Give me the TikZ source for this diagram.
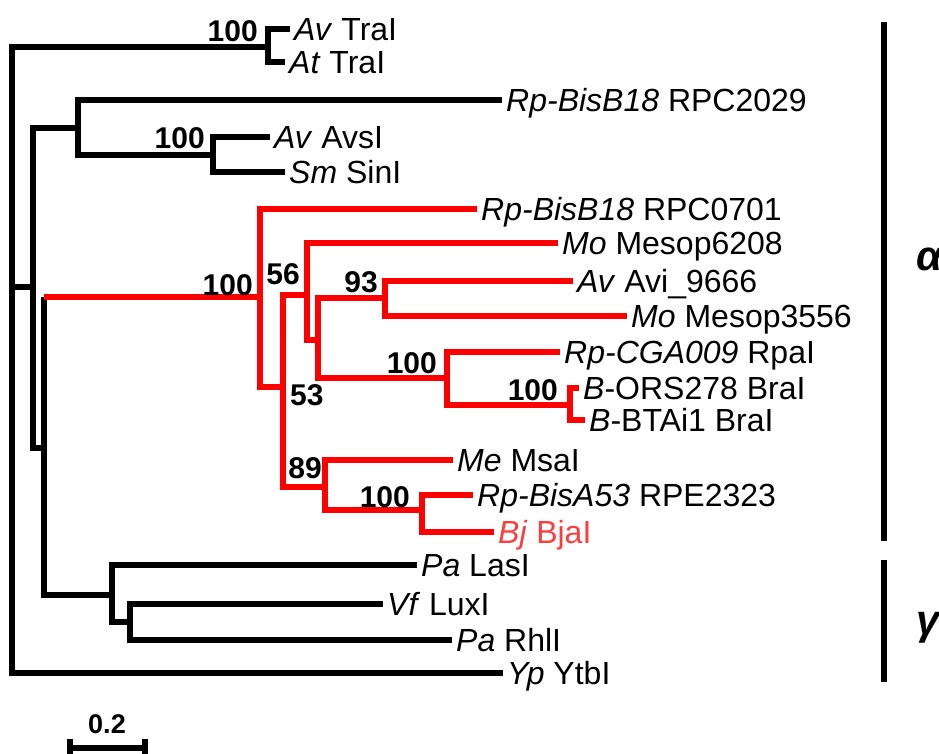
\documentclass[tikz,border=0pt]{standalone}
\usepackage{fontspec}
\setmainfont{Liberation Sans}
\definecolor{bjred}{RGB}{255,60,60}
\begin{document}
\begin{tikzpicture}[x=1pt,y=-1pt,
  br/.style={line width=6pt, line join=miter, line cap=butt},
  leaf/.style={anchor=west, inner xsep=4pt, inner ysep=0pt, text height=23pt, text depth=0pt, font=\fontsize{32}{38}\selectfont},
  boot/.style={anchor=base east, inner sep=0pt, font=\fontsize{30}{36}\selectfont\bfseries},
  clade/.style={anchor=base west, inner sep=0pt, font=\fontsize{42}{48}\selectfont\bfseries\itshape}]
\useasboundingbox (0,0) rectangle (939,753);
% leaves
\node[leaf] (avtral)  at (290,29)  {\textit{Av} TraI};
\node[leaf] (attral)  at (285,62)  {\textit{At} TraI};
\node[leaf] (rpc2029) at (502,100) {\textit{Rp-BisB18} RPC2029};
\node[leaf] (avsi)    at (270,137) {\textit{Av} AvsI};
\node[leaf] (sini)    at (285,172) {\textit{Sm} SinI};
\node[leaf] (rpc0701) at (477,209) {\textit{Rp-BisB18} RPC0701};
\node[leaf] (m6208)   at (558,243) {\textit{Mo} Mesop6208};
\node[leaf] (avi)     at (573,281) {\textit{Av} Avi\_9666};
\node[leaf] (m3556)   at (627,316) {\textit{Mo} Mesop3556};
\node[leaf] (rpal)    at (560,352) {\textit{Rp-CGA009} RpaI};
\node[leaf] (ors)     at (579,388) {\textit{B}-ORS278 BraI};
\node[leaf] (btai)    at (585,420) {\textit{B}-BTAi1 BraI};
\node[leaf] (msal)    at (453,460) {\textit{Me} MsaI};
\node[leaf] (rpe)     at (473,495) {\textit{Rp-BisA53} RPE2323};
\node[leaf, text=bjred] (bjal) at (494,532) {\textit{Bj} BjaI};
\node[leaf] (lasi)    at (417,565) {\textit{Pa} LasI};
\node[leaf] (luxi)    at (383,604) {\textit{Vf} LuxI};
\node[leaf] (rhli)    at (452,640) {\textit{Pa} RhlI};
\node[leaf] (ytbl)    at (503,673) {\textit{Yp} YtbI};
% internal nodes
\coordinate (root) at (12,287);
\coordinate (nA) at (268,47);
\coordinate (nE) at (33,287);
\coordinate (nB) at (78,128);
\coordinate (nC) at (213,155);
\coordinate (nF) at (44,448);
\coordinate (nG) at (260,297);
\coordinate (nH) at (283,387);
\coordinate (nI) at (307,295);
\coordinate (nK) at (318,340);
\coordinate (nL) at (385,298);
\coordinate (nM) at (447,378);
\coordinate (nN) at (570,405);
\coordinate (nJ) at (325,487);
\coordinate (nO) at (422,510);
\coordinate (nP) at (112,595);
\coordinate (nQ) at (130,622);
% black branches
\draw[br] (root) |- (nA);
\draw[br] (root) -- (nE);
\draw[br] (root) |- (ytbl.west);
\draw[br] (nA) |- (avtral.west);
\draw[br] (nA) |- (attral.west);
\draw[br] (nE) |- (nB);
\draw[br] (nE) |- (nF);
\draw[br] (nB) |- (rpc2029.west);
\draw[br] (nB) |- (nC);
\draw[br] (nC) |- (avsi.west);
\draw[br] (nC) |- (sini.west);
\draw[br] (nF) -- (nF |- nG);
\draw[br] (nF) |- (nP);
\draw[br] (nP) |- (lasi.west);
\draw[br] (nP) |- (nQ);
\draw[br] (nQ) |- (luxi.west);
\draw[br] (nQ) |- (rhli.west);
% red branches
\begin{scope}[red]
\draw[br] (nF |- nG) -- (nG);
\draw[br] (nG) |- (rpc0701.west);
\draw[br] (nG) |- (nH);
\draw[br] (nH) |- (nI);
\draw[br] (nH) |- (nJ);
\draw[br] (nI) |- (m6208.west);
\draw[br] (nI) |- (nK);
\draw[br] (nK) |- (nL);
\draw[br] (nK) |- (nM);
\draw[br] (nL) |- (avi.west);
\draw[br] (nL) |- (m3556.west);
\draw[br] (nM) |- (rpal.west);
\draw[br] (nM) |- (nN);
\draw[br] (nN) |- (ors.west);
\draw[br] (nN) |- (btai.west);
\draw[br] (nJ) |- (msal.west);
\draw[br] (nJ) |- (nO);
\draw[br] (nO) |- (rpe.west);
\draw[br] (nO) |- (bjal.west);
\end{scope}
% bootstrap values
\node[boot] (bA) at (258,41)  {100};
\node[boot] (bC) at (205,148) {100};
\node[boot] (bG) at (253,295) {100};
\node[boot] (bI) at (300,284) {56};
\node[boot] (bL) at (378,292) {93};
\node[boot] (bM) at (437,373) {100};
\node[boot] (bN) at (558,400) {100};
\node[boot, anchor=base west] (bH) at (290,405) {53};
\node[boot] (bJ) at (322,478) {89};
\node[boot] (bO) at (410,507) {100};
% clade brackets
\coordinate (aTop) at (884,22);
\coordinate (aBot) at (884,541);
\coordinate (gTop) at (884,560);
\coordinate (gBot) at (884,682);
\draw[br] (aTop) -- (aBot);
\draw[br] (gTop) -- (gBot);
\node[clade] (alpha) at (916,270) {α};
\node[clade] (gamma) at (916,634) {γ};
% scale bar
\coordinate (sbL) at (70,748);
\coordinate (sbR) at (145,748);
\draw[br] (sbL) -- (sbR);
\draw[br] ([yshift=9pt]sbL) -- ([yshift=-12pt]sbL);
\draw[br] ([yshift=9pt]sbR) -- ([yshift=-12pt]sbR);
\node[anchor=base, inner sep=0pt, font=\fontsize{27}{32}\selectfont\bfseries] (sbt) at (107,733) {0.2};
\end{tikzpicture}
\end{document}
